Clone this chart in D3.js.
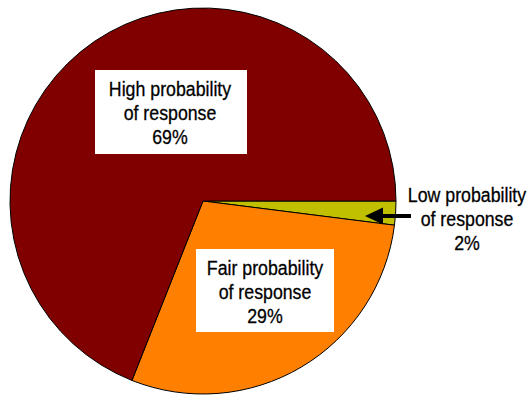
<!DOCTYPE html>
<html>
<head>
<meta charset="utf-8">
<script src="https://cdn.jsdelivr.net/npm/d3@7"></script>
<style>
  html, body { margin: 0; padding: 0; background: #fff; }
  svg { display: block; }
  text { font-family: "Liberation Sans", Arial, sans-serif; font-size: 21px; fill: #000; stroke: #000; stroke-width: 0.3px; }
</style>
</head>
<body>
<script>
// Share of respondents by probability of response (percent)
const categories = ["Low probability", "Fair probability", "High probability"];
const labelLines = [
  ["Low probability", "of response"],
  ["Fair probability", "of response"],
  ["High probability", "of response"]
];
const values = [2, 29, 69];
const colors = ["#C0C000", "#FF8000", "#800000"];

const width = 531, height = 395;
const cx = 203, cy = 201, radius = 193;

const svg = d3.select("body").append("svg")
  .attr("width", width)
  .attr("height", height);

const pie = d3.pie()
  .sort(null)
  .value(d => d)
  .startAngle(Math.PI / 2)
  .endAngle(Math.PI / 2 + 2 * Math.PI);

const arc = d3.arc().innerRadius(0).outerRadius(radius);
const arcs = pie(values);

const g = svg.append("g").attr("transform", `translate(${cx},${cy})`);

g.selectAll("path.slice")
  .data(arcs)
  .join("path")
  .attr("class", "slice")
  .attr("d", arc)
  .attr("fill", (d, i) => colors[i])
  .attr("stroke", "#000")
  .attr("stroke-width", 1)
  .attr("stroke-linejoin", "round");

// Label placement: text centre and first baseline, optional white box [x, y, w, h]
const labelPos = [
  { x: 467, y: 202, box: null },
  { x: 265, y: 275, box: [196, 249, 138, 83] },
  { x: 170, y: 96, box: [95, 70, 152, 84] }
];
const lineGap = 24;
const condense = 0.845; // narrow face look

const labels = svg.selectAll("g.label")
  .data(arcs)
  .join("g")
  .attr("class", "label");

labels.each(function (d, i) {
  const sel = d3.select(this);
  const p = labelPos[i];
  if (p.box) {
    sel.append("rect")
      .attr("x", p.box[0]).attr("y", p.box[1])
      .attr("width", p.box[2]).attr("height", p.box[3])
      .attr("fill", "#fff");
  }
  const lines = labelLines[i].concat([d3.format(".0f")(d.data) + "%"]);
  sel.append("text")
    .attr("text-anchor", "middle")
    .attr("transform", `translate(${p.x},${p.y}) scale(${condense},1)`)
    .selectAll("tspan")
    .data(lines)
    .join("tspan")
    .attr("x", 0)
    .attr("y", (t, k) => k * lineGap)
    .text(t => t);
});

// Pointer from the low-probability label to its slice
const arrowY = 216;
svg.append("line")
  .attr("x1", 411).attr("y1", arrowY)
  .attr("x2", 380).attr("y2", arrowY)
  .attr("stroke", "#000")
  .attr("stroke-width", 4);
svg.append("path")
  .attr("d", d3.line()([[365, arrowY], [383, arrowY - 8.5], [383, arrowY + 8.5]]) + "Z")
  .attr("fill", "#000");
</script>
</body>
</html>
